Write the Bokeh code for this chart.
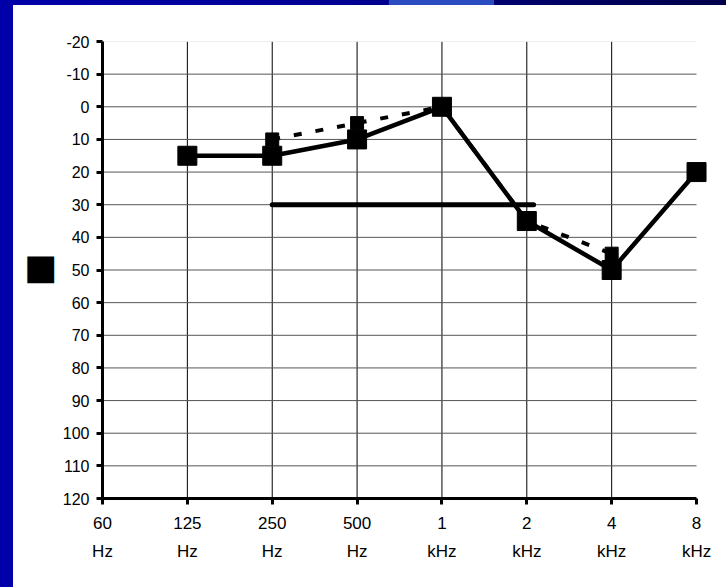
from bokeh.plotting import figure
from bokeh.layouts import column
from bokeh.models import Range1d, FixedTicker
from bokeh.embed import file_html
from bokeh.resources import INLINE

# ---- data ----
freq_labels = ["60\nHz", "125\nHz", "250\nHz", "500\nHz", "1\nkHz", "2\nkHz", "4\nkHz", "8\nkHz"]
freq_pos = list(range(len(freq_labels)))
y_ticks = [-20, -10, 0, 10, 20, 30, 40, 50, 60, 70, 80, 90, 100, 110, 120]
y_tick_labels = [str(v) for v in y_ticks]

solid_x = [1, 2, 3, 4, 5, 6, 7]
solid_y = [15, 15, 10, 0, 35, 50, 20]

dash_x = [2, 3, 4, 5, 6]
dash_y = [10, 5, 0, 35, 45]

level_x = [2, 5.08]
level_y = [30, 30]

y_title = "\u25A0"

# ---- figure ----
p = figure(width=713, height=582, output_backend="svg", toolbar_location=None,
           x_range=Range1d(0, 7.2), y_range=Range1d(120, -20),
           min_border_left=89, min_border_right=13, min_border_top=36, min_border_bottom=89)
p.margin = (5, 0, 0, 13)
p.styles = {"background-color": "white"}
p.outline_line_color = None
p.background_fill_color = "white"
p.border_fill_color = "white"

# axes
for ax in (p.xaxis, p.yaxis):
    ax.axis_line_width = 3
    ax.axis_line_color = "black"
    ax.major_tick_line_width = 3
    ax.major_tick_line_color = "black"
    ax.major_tick_out = 6
    ax.major_tick_in = 0
    ax.minor_tick_line_color = None
    ax.major_label_text_font = "Liberation Sans"
    ax.major_label_text_color = "black"

p.xaxis.ticker = FixedTicker(ticks=freq_pos)
p.xaxis.major_label_overrides = {i: lab for i, lab in zip(freq_pos, freq_labels)}
p.xaxis.bounds = (freq_pos[0], freq_pos[-1])
p.xaxis.major_label_text_font_size = "17px"
p.xaxis.major_label_text_line_height = 1.5
p.xaxis.major_label_standoff = 9

p.yaxis.ticker = FixedTicker(ticks=y_ticks)
p.yaxis.major_label_overrides = {v: s for v, s in zip(y_ticks, y_tick_labels)}
p.yaxis.major_label_text_font_size = "16px"
p.yaxis.major_label_standoff = 7
p.yaxis.axis_label = y_title
p.yaxis.axis_label_text_font = "DejaVu Sans"
p.yaxis.axis_label_text_font_size = "35px"
p.yaxis.axis_label_text_font_style = "normal"
p.yaxis.axis_label_text_color = "black"
p.yaxis.axis_label_standoff = 2

# grids (drawn as segments so they stop at the last tick)
p.xgrid.grid_line_color = None
p.ygrid.grid_line_color = None

inner_x = freq_pos[1:-1]
p.segment(x0=inner_x, x1=inner_x, y0=[y_ticks[0]] * len(inner_x), y1=[y_ticks[-1]] * len(inner_x),
          line_color="black", line_width=1)
inner_y = y_ticks[1:-1]
p.segment(x0=[freq_pos[0]] * len(inner_y), x1=[freq_pos[-1]] * len(inner_y), y0=inner_y, y1=inner_y,
          line_color="#555555", line_width=1)
p.segment(x0=[freq_pos[0]], x1=[freq_pos[-1]], y0=[y_ticks[0]], y1=[y_ticks[0]],
          line_color="#e0e0e0", line_width=1)

# data
p.line(level_x, level_y, line_color="black", line_width=5, line_cap="round")
p.line(dash_x, dash_y, line_color="black", line_width=4, line_dash="8 14")
p.scatter(dash_x, dash_y, marker="square", size=13, color="black")
p.line(solid_x, solid_y, line_color="black", line_width=4.5)
p.scatter(solid_x, solid_y, marker="square", size=19, color="black")

page = column(p, styles={
    "position": "absolute", "left": "0px", "top": "0px",
    "background": "linear-gradient(to right, #0000A8 0%, #0000A0 20%, #00008E 53.5%, "
                  "#2A4CC0 53.6%, #2A4CC0 68%, #00006E 68.1%, #00004A 100%) 0 0 / 100% 5px no-repeat, "
                  "linear-gradient(#0000A8, #0000A8) 0 0 / 13px 100% no-repeat, #ffffff",
})

open("out.html", "w").write(file_html(page, INLINE))
